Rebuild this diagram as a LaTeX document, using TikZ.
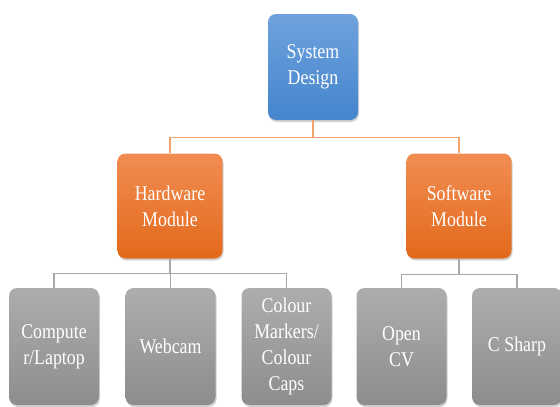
\documentclass[tikz,border=0pt]{standalone}
\usepackage{fontspec}
\setmainfont{Liberation Serif}[FakeStretch=0.85]
\usetikzlibrary{shadows}
\definecolor{bluetop}{HTML}{6FA2DE}
\definecolor{bluebot}{HTML}{4485CC}
\definecolor{orgtop}{HTML}{F18D52}
\definecolor{orgbot}{HTML}{E2691B}
\definecolor{greytop}{HTML}{ADADAD}
\definecolor{greybot}{HTML}{8D8D8D}
\definecolor{orgline}{HTML}{F3A26C}
\definecolor{greyline}{HTML}{A8A8A8}
\tikzset{
  box/.style={rounded corners=8pt, text=white, align=center, inner sep=0pt,
    font=\fontsize{21}{26}\selectfont,
    drop shadow={opacity=0.35, shadow xshift=1pt, shadow yshift=-2pt}},
  topbox/.style={box, top color=bluetop, bottom color=bluebot, minimum width=90pt, minimum height=106pt},
  midbox/.style={box, top color=orgtop, bottom color=orgbot, minimum width=105pt, minimum height=105pt},
  leafbox/.style={box, top color=greytop, bottom color=greybot, minimum width=90pt, minimum height=117pt},
  orgconn/.style={draw=orgline, line width=1.2pt},
  greyconn/.style={draw=greyline, line width=1.2pt}
}
\begin{document}
\begin{tikzpicture}[x=1pt,y=-1pt]
\useasboundingbox (0,0) rectangle (560,407);
\node[topbox] (sys) at (313,67) {System\\Design};
\node[midbox] (hw) at (170,206) {Hardware\\Module};
\node[midbox] (sw) at (459,206) {Software\\Module};
\node[leafbox] (c1) at (54,346.5) {Compute\\r/Laptop};
\node[leafbox] (c2) at (170.5,346.5) {Webcam};
\node[leafbox] (c3) at (286.5,346.5) {Colour\\Markers/\\Colour\\Caps};
\node[leafbox] (c4) at (401.5,346.5) {Open\\CV};
\node[leafbox] (c5) at (517,346.5) {C Sharp};
\draw[orgconn] (sys.south) -- ++(0,17) -| (hw.north);
\draw[orgconn] (sys.south) -- ++(0,17) -| (sw.north);
\draw[greyconn] (hw.south) -- ++(0,15) -| (c1.north);
\draw[greyconn] (hw.south) -- ++(0,15) -| (c2.north);
\draw[greyconn] (hw.south) -- ++(0,15) -| (c3.north);
\draw[greyconn] (sw.south) -- ++(0,16) -| (c4.north);
\draw[greyconn] (sw.south) -- ++(0,16) -| (c5.north);
\end{tikzpicture}
\end{document}
